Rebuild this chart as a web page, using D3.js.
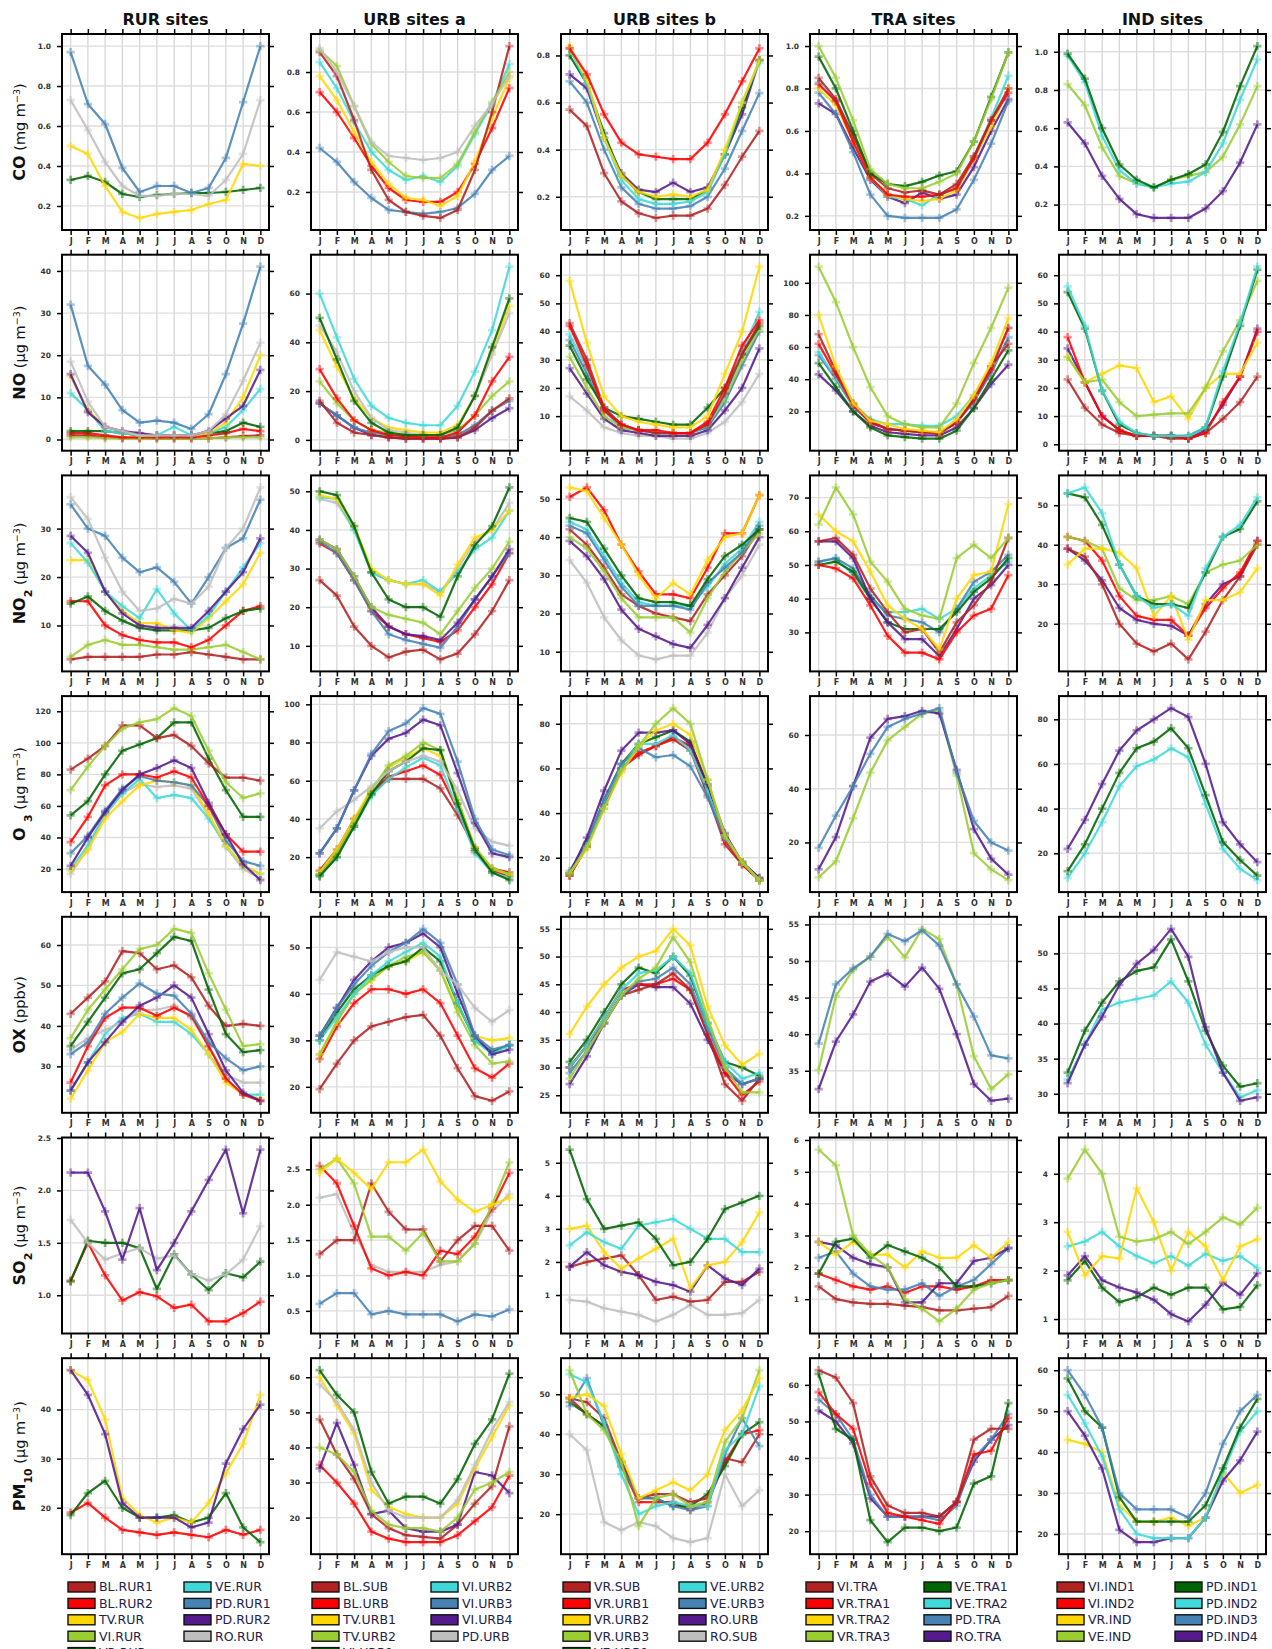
<!DOCTYPE html>
<html><head><meta charset="utf-8">
<script src="https://cdn.jsdelivr.net/npm/d3@7"></script>
<style>body{margin:0;background:#fff}svg{display:block}</style>
</head><body>
<script>
// ---------------- DATA ----------------
const months = ["J","F","M","A","M","J","J","A","S","O","N","D"];
const columnTitles = ["RUR sites","URB sites a","URB sites b","TRA sites","IND sites"];

const sites_RUR  = ["BL.RUR1","BL.RUR2","TV.RUR","VI.RUR","VR.RUR","VE.RUR","PD.RUR1","PD.RUR2","RO.RUR"];
const sites_URBa = ["BL.SUB","BL.URB","TV.URB1","TV.URB2","VI.URB1","VI.URB2","VI.URB3","VI.URB4","PD.URB"];
const sites_URBb = ["VR.SUB","VR.URB1","VR.URB2","VR.URB3","VE.URB1","VE.URB2","VE.URB3","RO.URB","RO.SUB"];
const sites_TRA  = ["VI.TRA","VR.TRA1","VR.TRA2","VR.TRA3","VE.TRA1","VE.TRA2","PD.TRA","RO.TRA"];
const sites_IND  = ["VI.IND1","VI.IND2","VR.IND","VE.IND","PD.IND1","PD.IND2","PD.IND3","PD.IND4"];

// CO (mg m-3)
const CO_RUR = [
 ["PD.RUR1",[0.97,0.71,0.61,0.39,0.27,0.30,0.30,0.265,0.29,0.44,0.72,1.0]],
 ["RO.RUR",[0.73,0.58,0.42,0.30,0.25,0.25,0.26,0.26,0.25,0.33,0.46,0.73]],
 ["TV.RUR",[0.50,0.46,0.30,0.17,0.14,0.16,0.17,0.18,0.21,0.23,0.41,0.40]],
 ["VR.RUR",[0.33,0.35,0.32,0.26,0.245,0.255,0.26,0.265,0.265,0.27,0.28,0.29]]];
const CO_URBa = [
 ["PD.URB",[0.92,0.80,0.63,0.45,0.38,0.37,0.36,0.37,0.40,0.53,0.64,0.78]],
 ["TV.URB2",[0.91,0.83,0.63,0.44,0.35,0.28,0.27,0.27,0.34,0.50,0.65,0.80]],
 ["BL.SUB",[0.90,0.78,0.56,0.31,0.16,0.10,0.08,0.07,0.11,0.31,0.60,0.93]],
 ["VI.URB2",[0.85,0.72,0.55,0.40,0.31,0.26,0.28,0.25,0.33,0.49,0.64,0.84]],
 ["TV.URB1",[0.78,0.66,0.50,0.35,0.24,0.17,0.16,0.13,0.18,0.35,0.57,0.77]],
 ["BL.URB",[0.70,0.60,0.47,0.33,0.22,0.16,0.15,0.15,0.20,0.34,0.52,0.72]],
 ["VI.URB3",[0.42,0.35,0.25,0.17,0.11,0.10,0.09,0.10,0.12,0.19,0.31,0.38]]];
const CO_URBb = [
 ["VR.URB1",[0.83,0.72,0.55,0.43,0.38,0.37,0.36,0.36,0.43,0.55,0.69,0.83]],
 ["VR.URB2",[0.84,0.70,0.45,0.29,0.22,0.20,0.21,0.20,0.23,0.40,0.60,0.78]],
 ["VE.URB2",[0.83,0.68,0.45,0.27,0.19,0.17,0.17,0.18,0.22,0.38,0.60,0.77]],
 ["VE.URB1",[0.80,0.68,0.47,0.29,0.22,0.19,0.19,0.19,0.23,0.38,0.58,0.78]],
 ["RO.URB",[0.72,0.66,0.45,0.30,0.23,0.22,0.26,0.22,0.24,0.38,0.55,0.78]],
 ["VE.URB3",[0.69,0.60,0.40,0.24,0.17,0.15,0.15,0.16,0.20,0.32,0.48,0.64]],
 ["VR.SUB",[0.57,0.50,0.30,0.18,0.13,0.11,0.12,0.12,0.15,0.25,0.37,0.48]]];
const CO_TRA = [
 ["VR.TRA3",[1.0,0.85,0.65,0.42,0.35,0.33,0.33,0.36,0.40,0.55,0.75,0.97]],
 ["VE.TRA1",[0.95,0.80,0.60,0.40,0.35,0.34,0.36,0.39,0.41,0.55,0.76,0.97]],
 ["VI.TRA",[0.85,0.75,0.58,0.40,0.33,0.31,0.32,0.30,0.35,0.48,0.65,0.80]],
 ["VR.TRA1",[0.82,0.74,0.55,0.38,0.30,0.29,0.29,0.30,0.33,0.47,0.65,0.78]],
 ["VR.TRA2",[0.80,0.72,0.55,0.38,0.30,0.28,0.27,0.28,0.32,0.47,0.62,0.80]],
 ["VE.TRA2",[0.83,0.74,0.58,0.38,0.29,0.28,0.25,0.30,0.33,0.48,0.66,0.86]],
 ["PD.TRA",[0.78,0.68,0.50,0.30,0.20,0.19,0.19,0.19,0.23,0.37,0.54,0.74]],
 ["RO.TRA",[0.73,0.68,0.52,0.37,0.29,0.26,0.31,0.28,0.30,0.43,0.60,0.75]]];
const CO_IND = [
 ["PD.IND1",[0.99,0.86,0.60,0.41,0.33,0.29,0.33,0.36,0.41,0.58,0.82,1.03]],
 ["PD.IND2",[0.98,0.84,0.56,0.38,0.31,0.29,0.31,0.32,0.37,0.52,0.75,0.96]],
 ["VE.IND",[0.83,0.72,0.50,0.35,0.31,0.29,0.33,0.35,0.37,0.45,0.62,0.82]],
 ["PD.IND4",[0.63,0.52,0.35,0.23,0.15,0.13,0.13,0.13,0.18,0.27,0.42,0.62]]];

// NO (ug m-3)
const NO_RUR = [
 ["PD.RUR1",[32,17.5,13,7,4,4.5,4,2.5,6,15.5,27.5,41]],
 ["RO.RUR",[18.5,9,3,2,1,1,1,1,2,6,14,23]],
 ["PD.RUR2",[15.5,6.5,3,2,1.5,1,1,1,2,5,8,16.5]],
 ["TV.RUR",[15,7,3,2,1,1,1,1,1.5,4,10,20]],
 ["VE.RUR",[11,7,2,1.5,1,1,3,1,1.5,3,7,12]],
 ["VR.RUR",[2,2,2,1.5,1,1,1,1,1.5,2,4,3]],
 ["BL.RUR2",[1.5,1.5,1,0.5,0.5,0.5,0.5,0.5,1,1.5,2.5,2]],
 ["VI.RUR",[0.5,0.5,0.3,0.2,0.2,0.2,0.2,0.2,0.3,0.5,0.5,0.5]],
 ["BL.RUR1",[1,1,0.5,0.3,0.3,0.2,0.2,0.2,0.3,0.5,0.8,1]]];
const NO_URBa = [
 ["VI.URB2",[60,42,25,14,9,7,6,6,14,28,45,71]],
 ["VI.URB1",[50,33,16,7,3,2,2,2,5,18,38,58]],
 ["PD.URB",[47,36,20,9,4,3,2,2,5,18,35,52]],
 ["TV.URB1",[45,30,17,9,5,4,3,3,6,18,36,55]],
 ["BL.URB",[29,17,8,4,2,1.5,1,1,3,10,24,34]],
 ["TV.URB2",[24,15,8,4,3,2,2,2,4,10,18,24]],
 ["BL.SUB",[16,7,3,2,1,0.5,0.5,0.5,1,5,12,17]],
 ["VI.URB3",[15,10,5,3,2,1.5,1,1,2,6,12,16]],
 ["VI.URB4",[15,10,5,2,1,0.5,0.5,0.5,1,4,9,13]]];
const NO_URBb = [
 ["VR.URB2",[58,36,17,10,8,7,6,6,10,25,40,63]],
 ["VR.URB1",[42,28,12,7,5,5,4,4,8,20,35,44]],
 ["VR.SUB",[43,30,13,7,5,4,4,4,7,18,32,43]],
 ["VE.URB2",[39,27,13,7,5,4,4,4,7,17,33,47]],
 ["VE.URB1",[35,23,13,10,9,8,7,7,13,20,32,42]],
 ["VR.URB3",[31,20,10,6,5,4,4,4,7,16,30,41]],
 ["VE.URB3",[37,25,12,6,5,4,4,4,6,15,28,40]],
 ["RO.URB",[27,18,9,5,4,3,3,3,5,12,20,34]],
 ["RO.SUB",[17,12,6,4,3,3,2,2,4,8,15,25]]];
const NO_TRA = [
 ["VR.TRA3",[110,88,60,35,17,12,10,10,25,50,72,97]],
 ["VR.TRA2",[80,48,25,14,12,9,8,7,15,30,50,78]],
 ["VI.TRA",[68,45,25,14,9,8,7,6,13,28,48,62]],
 ["VR.TRA1",[62,43,24,13,9,8,7,7,13,27,46,72]],
 ["VE.TRA2",[57,41,25,15,12,12,11,11,17,30,48,72]],
 ["PD.TRA",[55,40,23,13,9,8,7,7,13,26,44,66]],
 ["VE.TRA1",[50,35,20,10,5,4,3,3,8,22,40,58]],
 ["RO.TRA",[43,33,20,11,7,6,5,5,10,22,37,49]]];
const NO_IND = [
 ["PD.IND2",[56,42,19,8,4,3,3,3,6,26,43,63]],
 ["PD.IND1",[54,41,19,7,4,3,3,3,6,24,42,62]],
 ["VE.IND",[31,22,23,15,10,10.5,11,11,20,33,44,58]],
 ["VR.IND",[31,22,25,28,27,15,17,9,20,25,25,36]],
 ["VI.IND2",[38,22,10,5,3,3,3,2,4,15,24,40]],
 ["VI.IND1",[23,13,7,4,3,3,2,2,4,9,15,24]],
 ["PD.IND4",[34,22,10,5,3,3,3,2,5,14,24,41]]];

// NO2 (ug m-3)
const NO2_RUR = [
 ["RO.RUR",[36.5,32,24,17,13,13.5,15.5,14.5,18,26,30,38.5]],
 ["PD.RUR1",[35,30,28.5,24,21,22,19,14.5,20,26,28,36]],
 ["PD.RUR2",[28.5,25,17,12.5,10,9.5,9.5,9.5,13,17,21,28]],
 ["VE.RUR",[27,23,17,14,11.5,17.5,12.5,9,12,17,22,27]],
 ["TV.RUR",[23.5,23.5,17,13,10.5,10.5,9,8.5,11.5,15,18.5,25]],
 ["VR.RUR",[14.5,16,13,11,9.5,9,9,9,9.5,11.5,13,13.5]],
 ["BL.RUR2",[15,15,10,8,7,6.5,6.5,5.5,7,10,13,14]],
 ["VI.RUR",[3.5,6,7,6,6,5.5,5,5,5.5,6,4.5,3]],
 ["BL.RUR1",[3,3.5,3.5,3.5,3.5,4,4,4.5,4,3.5,3,3]]];
const NO2_URBa = [
 ["VI.URB1",[50,49,41,29,22,20,20,17.5,28,36,41,51]],
 ["TV.URB1",[49,48,41,30,27,26,26,23,31,38,40,45]],
 ["VI.URB2",[48.5,48,40,29,27,26,27,24,29,35,38,45]],
 ["PD.URB",[48,47,40,29,27,26,26,24,30,37,40,47]],
 ["TV.URB2",[37.5,35,28,20,18,17,16,13,19,25,30,37]],
 ["VI.URB4",[37.5,35,28,20,15,13,12.5,11.5,16,22,28,35]],
 ["VI.URB3",[37,34,27,19,13,11.5,10.5,9.5,15,22,28,34]],
 ["BL.URB",[36.5,34,27,19,15,13,12,11,14,20,26,34]],
 ["BL.SUB",[27,23,15,10,7,8.5,9,6.5,8,13,19,27]]];
const NO2_URBb = [
 ["VR.URB2",[53,52,45,38,30,24,28,25,34,40,41,51]],
 ["VR.URB1",[50.5,53,47,38,31,25,25,24,32,41,41,51]],
 ["VE.URB1",[45,44,37,30,24,23,23,22,29,35,38,42]],
 ["VE.URB3",[43,41,34,27,22,22,22,21,28,32,36,43]],
 ["VE.URB2",[44,42,35,28,23,22,22,22,27,33,37,44]],
 ["VR.URB3",[40,37,31,24,19,19,19,15,24,31,36,41]],
 ["VR.SUB",[42,38,32,25,22,20,19,18,25,30,35,42]],
 ["RO.URB",[39,35,29,21,16,14,12,11,17,24,32,40]],
 ["RO.SUB",[34,28,19,13,9,8,9,9,15,24,30,38]]];
const NO2_TRA = [
 ["VR.TRA3",[62,73,65,51,45,37,35,34,52,56,52,58]],
 ["VR.TRA2",[65,60,57,48,38,34,31,25,40,47,48,68]],
 ["VI.TRA",[57,58,53,43,36,30,31,24,33,38,45,58]],
 ["VR.TRA1",[50,49,46,38,29,24,24,22,30,35,37,47]],
 ["RO.TRA",[57,57,52,40,33,28,28,23,31,40,44,50]],
 ["VE.TRA1",[50,51,48,40,33,31,31,31,36,42,46,52]],
 ["PD.TRA",[51,52,49,41,35,34,33,30,37,45,48,53]],
 ["VE.TRA2",[51,52,47,40,36,36,37,34,37,43,47,51]]];
const NO2_IND = [
 ["PD.IND2",[53,54.5,48,35,27,24,25,22,34,42,45,52]],
 ["PD.IND1",[53,52,45,35,27,25,25,24,33,42,44,51]],
 ["VR.IND",[35,39,39,38,34,22,27,16,26,26,28,34]],
 ["VE.IND",[42,41,39,29,26,26,27,25,33,35,36,40]],
 ["VI.IND2",[42,41,36,27,22,21,21,17,24,29,33,41]],
 ["VI.IND1",[39,37,30,20,15,13,15,11,18,26,32,40]],
 ["PD.IND4",[39,36,31,24,21,20,19.5,17,25,30,32,41]]];

// O3 (ug m-3)
const O3_RUR = [
 ["VI.RUR",[70,85,98,109,113,115,122,117,95,75,65,68]],
 ["BL.RUR1",[83,90,98,111,111,103,105,98,87,78,78,76]],
 ["VR.RUR",[54,63,80,95,99,103,113,113,90,70,53,53]],
 ["PD.RUR2",[22,40,56,70,80,84,89,84,62,42,23,13]],
 ["BL.RUR2",[37,53,73,80,80,78,82,78,60,42,31,31]],
 ["PD.RUR1",[30,41,57,71,79,76,75,73,60,38,25,22]],
 ["TV.RUR",[19,32,52,63,73,76,75,73,55,35,22,17]],
 ["VE.RUR",[20,35,55,68,77,65,67,65,52,35,22,17]],
 ["RO.RUR",[17,33,54,68,74,72,73,71,54,34,20,14]]];
const O3_URBa = [
 ["VI.URB3",[22,35,55,74,86,90,98,95,70,40,24,21]],
 ["VI.URB4",[22,35,55,73,82,85,92,89,64,38,22,20]],
 ["PD.URB",[35,44,50,57,65,70,73,70,55,35,28,26]],
 ["VI.URB1",[10,20,36,53,65,70,77,76,48,24,12,8]],
 ["TV.URB2",[11,22,38,55,68,73,80,76,50,25,14,11]],
 ["TV.URB1",[12,24,40,56,67,72,77,73,50,25,14,11]],
 ["VI.URB2",[10,20,36,52,61,67,72,68,45,22,12,9]],
 ["BL.URB",[11,22,37,54,62,65,68,63,45,23,13,10]],
 ["BL.SUB",[13,24,40,53,61,61,61,56,42,25,14,12]]];
const O3_URBb = [
 ["VR.URB3",[13,25,42,59,70,80,87,80,55,30,18,10]],
 ["VR.URB2",[13,24,42,58,70,77,80,75,55,30,18,10]],
 ["RO.URB",[13,29,50,68,76,76,77,71,53,31,18,11]],
 ["VE.URB3",[14,27,46,62,69,65,66,61,47,29,18,11]],
 ["VE.URB2",[13,26,45,61,71,71,75,68,50,29,18,10]],
 ["VE.URB1",[13,26,46,62,71,74,77,72,52,30,18,10]],
 ["VR.URB1",[12,25,44,60,67,70,74,70,50,28,17,10]],
 ["VR.SUB",[12,25,44,60,66,70,73,68,48,26,17,10]]];
const O3_TRA = [
 ["PD.TRA",[18,30,41,53,63,66,68,70,46,28,20,17]],
 ["RO.TRA",[10,22,41,59,66,67,69,68,47,25,14,8]],
 ["VR.TRA3",[7,13,29,46,58,63,68,69,45,16,10,6]]];
const O3_IND = [
 ["PD.IND4",[22,35,51,66,75,80,85,81,60,34,24,16]],
 ["PD.IND1",[12,24,40,56,67,70,76,67,46,25,17,10]],
 ["PD.IND2",[9,20,34,50,59,62,67,63,42,22,13,8]]];

// OX (ppbv)
const OX_RUR = [
 ["VI.RUR",[37,44,49,54,59,60,64,63,53,44,35,35.5]],
 ["VR.RUR",[35,41,47,53,54,58,62,61,49,38,33.5,34]],
 ["BL.RUR1",[43,47,51,58.5,58,54,55,52,45,40,40.5,40]],
 ["PD.RUR1",[33,36,43,47,50.5,48,47.5,43,36,32,29,30]],
 ["PD.RUR2",[24,31,36,41,45,47,50,47,38,29,23.5,21.5]],
 ["BL.RUR2",[26,35,42,44.5,44.5,42.5,44.5,42.5,35,27,23,21.5]],
 ["RO.RUR",[34,37,39,41,44,44,45,42,35,28,26,26]],
 ["TV.RUR",[22,29,36,38.5,43,42,42,39,33,26,23,22]],
 ["VE.RUR",[24,31,38,42,43,41,41,38,33,27,23,23]]];
const OX_URBa = [
 ["PD.URB",[43,49,48,47,49,50,50,45,42,37,34,36.5]],
 ["VI.URB3",[31,37,42,46,49,51,54,51,42,31,28,29]],
 ["VI.URB4",[31,37,43,47,50,51,53,50,40,31,27,28]],
 ["VI.URB2",[30,35,40,44,47,49,51,48,38,30,27,29]],
 ["VI.URB1",[30,36,41,44,46,47,50,47,38,30,27.5,29]],
 ["TV.URB2",[27,34,40,43,46,48,49,45,36,29,25,25.5]],
 ["TV.URB1",[27,34,40,43,46,47,49,45,37,31,30,30.5]],
 ["BL.URB",[26,33,38,41,41,40,41,38,31,24,22,25]],
 ["BL.SUB",[19.5,25,30,33,34,35,35.5,31,24,18,17,19]]];
const OX_URBb = [
 ["VR.URB2",[36,41,45,48,50,51,55,52,41,34,30.5,32.5]],
 ["VR.URB3",[28,33,38,43,46,48,53.5,49,39,30,25.5,25.5]],
 ["VE.URB2",[30,34,39,44,47,47.5,50,47,38,31,28,29]],
 ["VE.URB1",[31,35,40,45,48,47,50,46.5,38,31,30,28.5]],
 ["VE.URB3",[29,33,38,43,45.5,46,48,45,37,30,27,28]],
 ["VR.SUB",[30,34,38,43,44,45,47,44,36,27,24,28]],
 ["VR.URB1",[30,34,39,44,45,45,46,44,36,29,25,27.5]],
 ["RO.URB",[27,32,38,43,45,44.5,44.5,41.5,35,29,27,28]]];
const OX_TRA = [
 ["PD.TRA",[38.7,46.8,49,50.6,53.7,52.7,54.2,52.1,46.8,42.4,37.1,36.7]],
 ["VR.TRA3",[35.1,45.2,48.8,50.6,53.3,50.5,54.4,53,46.8,37,32.5,34.5]],
 ["RO.TRA",[32.5,39,42.7,47.2,48.3,46.5,49.1,46.2,40,33.2,30.9,31.2]]];
const OX_IND = [
 ["PD.IND4",[31.5,37,41,45.5,48.5,50.5,53.5,49.5,39.5,33,29,29.5]],
 ["PD.IND1",[33,39,43,46,47.5,48,52,46,39,34,31,31.5]],
 ["PD.IND2",[32,37,42,43,43.5,44,46,43,37,33,29.5,30.5]]];

// SO2 (ug m-3)
const SO2_RUR = [
 ["PD.RUR2",[2.17,2.17,1.8,1.34,1.83,1.24,1.5,1.8,2.1,2.39,1.78,2.39]],
 ["RO.RUR",[1.72,1.5,1.34,1.4,1.45,1.35,1.38,1.2,1.14,1.2,1.34,1.66]],
 ["VR.RUR",[1.13,1.52,1.5,1.5,1.45,1.06,1.39,1.2,1.05,1.21,1.17,1.32]],
 ["BL.RUR2",[1.14,1.5,1.19,0.95,1.03,0.99,0.88,0.91,0.75,0.75,0.83,0.94]]];
const SO2_URBa = [
 ["TV.URB1",[2.45,2.65,2.45,2.22,2.6,2.6,2.78,2.33,2.07,1.9,2.0,2.1]],
 ["TV.URB2",[2.5,2.65,2.3,1.55,1.55,1.35,1.6,1.2,1.2,1.45,2.0,2.6]],
 ["BL.URB",[2.55,2.3,1.7,1.1,1.0,1.05,1.0,1.35,1.3,1.55,1.95,2.45]],
 ["BL.SUB",[1.3,1.5,1.5,2.3,1.9,1.65,1.65,1.2,1.5,1.7,1.7,1.35]],
 ["PD.URB",[2.1,2.15,1.6,1.15,1.05,1.05,1.05,1.15,1.2,1.45,1.9,2.15]],
 ["VI.URB3",[0.6,0.75,0.75,0.45,0.5,0.45,0.45,0.45,0.35,0.45,0.42,0.52]]];
const SO2_URBb = [
 ["VE.URB1",[5.4,3.9,3.0,3.1,3.2,2.7,1.9,2.0,2.7,3.6,3.8,4.0]],
 ["VE.URB2",[2.5,2.9,2.6,2.4,3.1,3.2,3.3,3.0,2.7,2.7,2.3,2.3]],
 ["VR.URB2",[3.0,3.1,2.3,1.8,2.1,2.4,2.7,1.2,1.9,2.0,2.6,3.5]],
 ["RO.URB",[1.85,2.3,1.9,1.7,1.6,1.4,1.3,1.1,1.9,1.5,1.3,1.8]],
 ["VR.SUB",[1.85,2.0,2.1,2.2,1.6,0.85,0.95,0.8,0.85,1.4,1.4,1.7]],
 ["RO.SUB",[0.85,0.8,0.6,0.5,0.4,0.2,0.4,0.7,0.4,0.4,0.45,0.85]]];
const SO2_TRA = [
 ["VR.TRA3",[5.7,5.2,3.0,2.4,2.0,1.0,0.7,0.3,0.7,1.3,1.5,1.6]],
 ["VE.TRA1",[1.8,2.8,2.9,2.3,2.7,2.5,2.3,2.0,1.4,1.4,1.5,1.6]],
 ["VR.TRA2",[2.8,2.4,2.8,2.4,2.4,2.0,2.5,2.3,2.3,2.7,2.3,2.8]],
 ["RO.TRA",[2.8,2.7,2.3,2.1,2.0,0.9,0.9,1.5,1.5,2.2,2.3,2.6]],
 ["PD.TRA",[2.3,2.5,1.8,1.4,1.3,1.3,1.5,1.1,1.4,1.6,2.1,2.6]],
 ["VR.TRA1",[1.8,1.6,1.4,1.3,1.4,1.2,1.4,1.4,1.3,1.4,1.6,1.6]],
 ["VI.TRA",[1.4,1.0,0.9,0.85,0.85,0.8,0.75,0.65,0.65,0.7,0.75,1.1]]];
const SO2_IND = [
 ["VE.IND",[3.9,4.5,4.0,2.7,2.6,2.65,2.8,2.55,2.8,3.1,2.95,3.3]],
 ["VR.IND",[2.8,1.9,2.3,2.25,3.7,3.0,2.0,2.8,2.5,1.8,2.5,2.65]],
 ["PD.IND2",[2.5,2.6,2.8,2.5,2.3,2.15,2.3,2.1,2.35,2.2,2.3,2.05]],
 ["PD.IND4",[1.9,2.3,1.8,1.65,1.55,1.4,1.1,0.95,1.3,1.75,1.5,1.95]],
 ["PD.IND1",[1.8,2.2,1.65,1.35,1.45,1.65,1.5,1.65,1.65,1.2,1.25,1.7]]];

// PM10 (ug m-3)
const PM10_RUR = [
 ["PD.RUR2",[48,43,35,21,18,18,18,16,17,29,36,41]],
 ["TV.RUR",[48,46,38,22,18.5,17,18,17,21,27,33,43]],
 ["VR.RUR",[18.5,23,25.5,20,18,18,18.5,17,18,23,16,13]],
 ["BL.RUR2",[19,21,18,15.5,15,14.5,15,14.5,14,15.5,14.5,15.5]]];
const PM10_URBa = [
 ["VI.URB1",[62,55,50,33,24,26,26,24,31,41,48,61]],
 ["PD.URB",[58,53,45,30,22,20,20,20,25,35,45,53]],
 ["TV.URB1",[60,52,44,28,23,21,20,20,24,34,43,52]],
 ["TV.URB2",[40,38,33,22,18,17,17,16,20,28,30,33]],
 ["VI.URB4",[34,47,35,21,22,17,16,16,18,33,32,27]],
 ["BL.SUB",[48,38,31,21,17,15,14.5,14,18,24,29,46]],
 ["BL.URB",[35,30,24,16,14,13,13,13,15,19,23,32]]];
const PM10_URBb = [
 ["VR.URB2",[49,50,47,35,24,26,28,26,30,41,46,54]],
 ["VR.URB3",[56,45,41,33,17,24,25,22,23,38,44,56]],
 ["VE.URB2",[55,53,43,30,20,22,23,22,22,36,40,52]],
 ["VE.URB3",[47,54,42,32,24,24,22,21,22,35,44,37]],
 ["VR.SUB",[49,48,44,33,24,25,25,23,24,34,33,40]],
 ["VE.URB1",[48,45,42,33,24,24,22,22,25,32,40,43]],
 ["VR.URB1",[49,45,42,32,23,23,23,21,23,33,40,41]],
 ["RO.SUB",[40,36,18,16,18,17,14,13,14,30,22,26]]];
const PM10_TRA = [
 ["VI.TRA",[64,62,55,35,27,25,25,24,28,45,48,48]],
 ["VR.TRA1",[58,52,48,33,25,24,23,22,28,41,42,51]],
 ["VE.TRA1",[63,48,45,23,17,21,21,20,21,33,35,55]],
 ["PD.TRA",[56,52,45,30,24,24,24,23,27,40,45,52]],
 ["RO.TRA",[53,50,44,29,24,24,24,24,28,39,45,49]]];
const PM10_IND = [
 ["PD.IND3",[60,54,46,30,26,26,26,24,30,42,50,54]],
 ["PD.IND1",[58,50,46,29,23,23,23,23,27,36,46,53]],
 ["PD.IND2",[54,47,39,26,20,19,19,19,24,35,45,50]],
 ["PD.IND4",[50,44,36,21,18,18,19,19,24,33,38,45]],
 ["VR.IND",[43,42,40,27,23,23,24,22,24,35,30,32]]];

// y tick values per row (columns RUR, URBa, URBb, TRA, IND)
const yticks_CO   = [[0.2,0.4,0.6,0.8,1.0],[0.2,0.4,0.6,0.8],[0.2,0.4,0.6,0.8],[0.2,0.4,0.6,0.8,1.0],[0.2,0.4,0.6,0.8,1.0]];
const yticks_NO   = [[0,10,20,30,40],[0,20,40,60],[10,20,30,40,50,60],[20,40,60,80,100],[0,10,20,30,40,50,60]];
const yticks_NO2  = [[10,20,30],[10,20,30,40,50],[10,20,30,40,50],[30,40,50,60,70],[20,30,40,50]];
const yticks_O3   = [[20,40,60,80,100,120],[20,40,60,80,100],[20,40,60,80],[20,40,60],[20,40,60,80]];
const yticks_OX   = [[30,40,50,60],[20,30,40,50],[25,30,35,40,45,50,55],[35,40,45,50,55],[30,35,40,45,50]];
const yticks_SO2  = [[1.0,1.5,2.0,2.5],[0.5,1.0,1.5,2.0,2.5],[1,2,3,4,5],[1,2,3,4,5,6],[1,2,3,4]];
const yticks_PM10 = [[20,30,40],[20,30,40,50,60],[20,30,40,50],[20,30,40,50,60],[20,30,40,50,60]];

// ---------------- STYLE / LAYOUT ----------------
const palette = ["#B22222","#FF0000","#FFD700","#9ACD32","#006400","#40D8D8","#4682B4","#551A8B","#BEBEBE"];
const W = 1272, H = 1649;
const colLeft = [62,311,561,810,1059];
const pw = 207, ph = 196, top0 = 34, pitch = 220.7;
const legendX = [[68,184],[312,431],[563,679],[806,924],[1057,1175]];

const groupSites = [sites_RUR, sites_URBa, sites_URBb, sites_TRA, sites_IND];
const panelRows = [
  [CO_RUR, CO_URBa, CO_URBb, CO_TRA, CO_IND],
  [NO_RUR, NO_URBa, NO_URBb, NO_TRA, NO_IND],
  [NO2_RUR, NO2_URBa, NO2_URBb, NO2_TRA, NO2_IND],
  [O3_RUR, O3_URBa, O3_URBb, O3_TRA, O3_IND],
  [OX_RUR, OX_URBa, OX_URBb, OX_TRA, OX_IND],
  [SO2_RUR, SO2_URBa, SO2_URBb, SO2_TRA, SO2_IND],
  [PM10_RUR, PM10_URBa, PM10_URBb, PM10_TRA, PM10_IND]];
const tickRows = [yticks_CO, yticks_NO, yticks_NO2, yticks_O3, yticks_OX, yticks_SO2, yticks_PM10];
const rowLabels = [
  [["CO","n"],[" (mg m","u"],["\u22123","sup"],[")","u"]],
  [["NO","n"],[" (\u00b5g m","u"],["\u22123","sup"],[")","u"]],
  [["NO","n"],["2","sub"],[" (\u00b5g m","u"],["\u22123","sup"],[")","u"]],
  [["O ","n"],["3","sub"],[" (\u00b5g m","u"],["\u22123","sup"],[")","u"]],
  [["OX","n"],[" (ppbv)","u"]],
  [["SO","n"],["2","sub"],[" (\u00b5g m","u"],["\u22123","sup"],[")","u"]],
  [["PM","n"],["10","sub"],[" (\u00b5g m","u"],["\u22123","sup"],[")","u"]]];

const svg = d3.select("body").append("svg").attr("width",W).attr("height",H)
  .style("font-family","'DejaVu Sans', Verdana, sans-serif");
svg.append("rect").attr("width",W).attr("height",H).attr("fill","#fff");

// column titles
columnTitles.forEach((t,ci)=>{
  svg.append("text").attr("x",colLeft[ci]+pw/2).attr("y",25).attr("text-anchor","middle")
    .attr("font-size",16).attr("font-weight","bold").attr("fill","#111").text(t);
});

// row labels
rowLabels.forEach((parts,ri)=>{
  const cy = top0 + ri*pitch + ph/2;
  const t = svg.append("text").attr("transform",`translate(25,${cy}) rotate(-90)`)
    .attr("text-anchor","middle").attr("fill","#111");
  parts.forEach(([s,k])=>{
    const ts = t.append("tspan").text(s);
    if(k==="n") ts.attr("font-size",16).attr("font-weight","bold");
    else if(k==="u") ts.attr("font-size",14.5).attr("font-weight","normal");
    else if(k==="sup") ts.attr("font-size",9.5).attr("baseline-shift","super");
    else if(k==="sub") ts.attr("font-size",11).attr("font-weight","bold").attr("baseline-shift","sub");
  });
});

panelRows.forEach((row,ri)=>{
  row.forEach((series,ci)=>{
    const x0 = colLeft[ci], y0 = top0 + ri*pitch;
    const vals = series.flatMap(s=>s[1]);
    const [lo,hi] = d3.extent(vals); const pad = (hi-lo)*0.07;
    const x = d3.scaleLinear().domain([0.5,12.5]).range([x0,x0+pw]);
    const y = d3.scaleLinear().domain([lo-pad,hi+pad]).range([y0+ph,y0]);
    const ticks = tickRows[ri][ci].filter(t=>t>=lo-pad && t<=hi+pad);
    const fmt = ticks.some(t=>!Number.isInteger(t)) || ri===0 ? d3.format(".1f") : d3.format("d");
    const g = svg.append("g");

    // grid
    g.append("g").selectAll("line").data(d3.range(1,13)).join("line")
      .attr("x1",d=>x(d)).attr("x2",d=>x(d)).attr("y1",y0).attr("y2",y0+ph)
      .attr("stroke","#d6d6d6").attr("stroke-width",1.3);
    g.append("g").selectAll("line").data(ticks).join("line")
      .attr("x1",x0).attr("x2",x0+pw).attr("y1",d=>y(d)).attr("y2",d=>y(d))
      .attr("stroke","#dedede").attr("stroke-width",1.3);

    // series
    const ln = d3.line().x((d,i)=>x(i+1)).y(d=>y(d));
    const sym = d3.symbol(d3.symbolCross, 38);
    series.slice().reverse().forEach(([name,v])=>{
      const c = palette[groupSites[ci].indexOf(name)];
      g.append("path").datum(v).attr("d",ln).attr("fill","none").attr("stroke",c)
        .attr("stroke-width",2.2).attr("stroke-opacity",0.88).attr("stroke-linejoin","round");
      g.append("g").selectAll("path").data(v).join("path").attr("d",sym)
        .attr("transform",(d,i)=>`translate(${x(i+1)},${y(d)})`)
        .attr("fill",c).attr("fill-opacity",0.45);
    });

    // frame
    g.append("rect").attr("x",x0).attr("y",y0).attr("width",pw).attr("height",ph)
      .attr("fill","none").attr("stroke","#000").attr("stroke-width",2);

    // axes
    const styleAxis = sel => {
      sel.select(".domain").remove();
      sel.selectAll(".tick line").attr("stroke","#000").attr("stroke-width",1.5);
      sel.selectAll(".tick text").attr("fill","#333").attr("font-family","'DejaVu Sans', sans-serif")
        .attr("font-weight","bold");
    };
    g.append("g").attr("transform",`translate(${x0},0)`)
      .call(d3.axisLeft(y).tickValues(ticks).tickFormat(fmt).tickSize(5).tickPadding(6))
      .call(styleAxis).call(s=>s.selectAll("text").attr("font-size",7.5));
    g.append("g").attr("transform",`translate(${x0+pw},0)`)
      .call(d3.axisRight(y).tickValues(ticks).tickFormat("").tickSize(5))
      .call(styleAxis);
    g.append("g").attr("transform",`translate(0,${y0})`)
      .call(d3.axisTop(x).tickValues(d3.range(1,13)).tickFormat("").tickSize(5))
      .call(styleAxis);
    g.append("g").attr("transform",`translate(0,${y0+ph})`)
      .call(d3.axisBottom(x).tickValues(d3.range(1,13)).tickFormat(d=>months[d-1]).tickSize(5).tickPadding(3))
      .call(styleAxis).call(s=>s.selectAll("text").attr("font-size",8));
  });
});

// legends
groupSites.forEach((sites,ci)=>{
  const nLeft = Math.ceil(sites.length/2);
  sites.forEach((name,i)=>{
    const col = i < nLeft ? 0 : 1;
    const r = col===0 ? i : i-nLeft;
    const lx = legendX[ci][col];
    const cy = 1587 + r*16.4;
    svg.append("rect").attr("x",lx).attr("y",cy-5).attr("width",27).attr("height",10)
      .attr("fill",palette[i]).attr("stroke","#111").attr("stroke-width",1.4);
    svg.append("text").attr("x",lx+31).attr("y",cy).attr("dy","0.35em")
      .attr("font-size",12.5).attr("fill","#22224a").text(name);
  });
});
</script>
</body></html>
